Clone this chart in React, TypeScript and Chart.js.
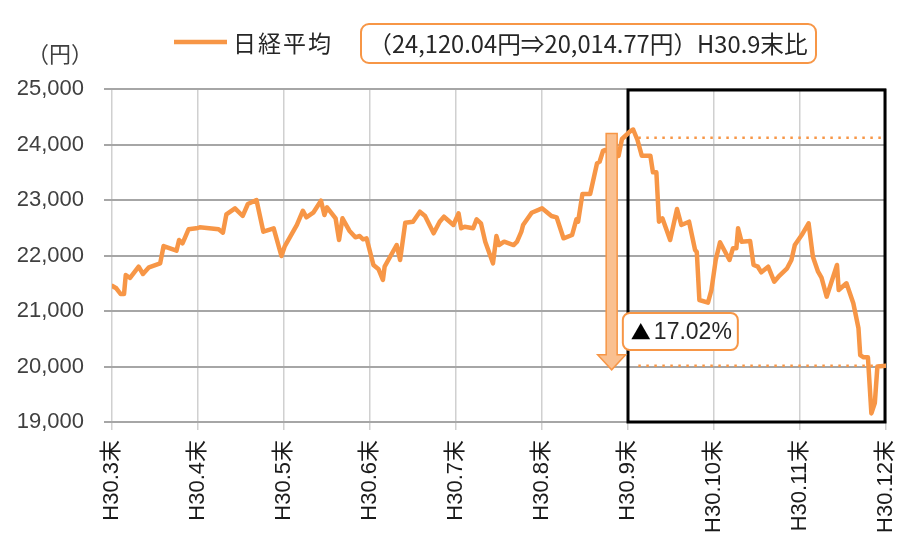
import React, { useEffect, useRef } from "react";
import { Chart, registerables } from "chart.js";

Chart.register(...registerables);

// ---- data ----
const monthLabels = [
  "H30.3末", "H30.4末", "H30.5末", "H30.6末", "H30.7末",
  "H30.8末", "H30.9末", "H30.10末", "H30.11末", "H30.12末",
];

// position in months after end of March 2018 (0 = H30.3末, 9 = H30.12末)
const monthPos = [
  0.00, 0.05, 0.10, 0.14, 0.16, 0.21, 0.31, 0.36, 0.43, 0.56,
  0.60, 0.75, 0.78, 0.82, 0.89, 0.98, 1.02, 1.24, 1.29, 1.33,
  1.43, 1.52, 1.58, 1.68, 1.76, 1.88, 1.97, 2.01, 2.15, 2.22,
  2.26, 2.34, 2.43, 2.47, 2.50, 2.60, 2.64, 2.68, 2.76, 2.83,
  2.88, 2.92, 2.96, 3.04, 3.10, 3.15, 3.17, 3.31, 3.35, 3.41,
  3.50, 3.58, 3.64, 3.74, 3.81, 3.86, 3.97, 4.03, 4.06, 4.10,
  4.20, 4.24, 4.29, 4.34, 4.43, 4.47, 4.50, 4.56, 4.67, 4.71,
  4.76, 4.78, 4.88, 5.00, 5.05, 5.11, 5.17, 5.25, 5.35, 5.40,
  5.42, 5.47, 5.56, 5.64, 5.67, 5.71, 5.73, 5.80, 5.89, 5.93,
  5.98, 6.02, 6.06, 6.11, 6.16, 6.26, 6.29, 6.33, 6.36, 6.40,
  6.49, 6.57, 6.62, 6.71, 6.78, 6.80, 6.83, 6.93, 6.97, 7.02,
  7.07, 7.18, 7.22, 7.26, 7.28, 7.32, 7.42, 7.46, 7.51, 7.55,
  7.63, 7.70, 7.75, 7.85, 7.90, 7.94, 8.02, 8.10, 8.15, 8.21,
  8.25, 8.31, 8.43, 8.45, 8.54, 8.62, 8.68, 8.70, 8.74, 8.79,
  8.83, 8.87, 8.90, 9.00,
];

const nikkeiAvg = [
  21454, 21409, 21306, 21306, 21649, 21595, 21798, 21667, 21787, 21859,
  22171, 22087, 22279, 22220, 22472, 22490, 22508, 22472, 22411, 22742,
  22850, 22712, 22928, 23000, 22429, 22490, 21991, 22171, 22550, 22807,
  22688, 22771, 22987, 22730, 22869, 22670, 22279, 22670, 22447, 22328,
  22351, 22292, 22310, 21829, 21751, 21559, 21798, 22189, 21919, 22591,
  22609, 22789, 22712, 22400, 22609, 22699, 22550, 22760, 22490, 22519,
  22490, 22652, 22580, 22249, 21859, 22351, 22189, 22249, 22189, 22249,
  22429, 22550, 22771, 22850, 22789, 22712, 22688, 22310, 22369, 22652,
  22609, 23108, 23108, 23661, 23690, 23888, 23901, 23850, 23793, 24099,
  24171, 24231, 24270, 24081, 23798, 23798, 23499, 23499, 22609, 22670,
  22279, 22838, 22550, 22609, 22099, 22063, 21198, 21150, 21378, 21919,
  22238, 21919, 22130, 22130, 22490, 22249, 22261, 21829, 21798, 21697,
  21798, 21528, 21618, 21769, 21919, 22189, 22369, 22580, 21978, 21708,
  21600, 21258, 21829, 21378, 21499, 21139, 20688, 20207, 20166, 20166,
  19155, 19342, 20000, 20015,
];

const yMin = 19000;
const yMax = 25000;
const yStep = 1000;

const baseValue = 24120.04; // H30.9末
const latestValue = 20014.77;
const changeLabel = "17.02%";
const seriesName = "日経平均";
const compareNote = "（24,120.04円⇒20,014.77円）H30.9末比";
const unitLabel = "（円）";

const frameFrom = 6; // H30.9末
const frameTo = 9; // H30.12末
const dottedFrom = 6.12;
const arrowPos = 5.81;
const arrowTop = 24200;
const arrowTip = 19940;
const noteAnchor = { x: 5.94, y: 20640 };

// ---- styles ----
const ORANGE = "#F79646";
const ARROW_FILL = "#FAC090";
const JP = '"Noto Sans CJK JP", "Noto Sans", sans-serif';
const LATIN = '"Liberation Sans", "Noto Sans CJK JP", sans-serif';

function rrect(ctx: CanvasRenderingContext2D, x: number, y: number, w: number, h: number, r: number) {
  ctx.beginPath();
  ctx.moveTo(x + r, y);
  ctx.lineTo(x + w - r, y);
  ctx.arcTo(x + w, y, x + w, y + r, r);
  ctx.lineTo(x + w, y + h - r);
  ctx.arcTo(x + w, y + h, x + w - r, y + h, r);
  ctx.lineTo(x + r, y + h);
  ctx.arcTo(x, y + h, x, y + h - r, r);
  ctx.lineTo(x, y + r);
  ctx.arcTo(x, y, x + r, y, r);
  ctx.closePath();
}

const overlayPlugin = {
  id: "overlay",
  beforeDatasetsDraw(chart: any) {
    const { ctx, scales } = chart;
    const xs = scales.x;
    const ys = scales.y;
    const l = xs.getPixelForValue(frameFrom);
    const r = xs.getPixelForValue(frameTo);
    const t = ys.getPixelForValue(yMax);
    const b = ys.getPixelForValue(yMin);
    ctx.save();
    ctx.strokeStyle = "#000";
    ctx.lineWidth = 3;
    ctx.strokeRect(l, t + 1, r - l - 1, b - t - 1);
    ctx.restore();
  },
  afterDatasetsDraw(chart: any) {
    const { ctx, scales } = chart;
    const xs = scales.x;
    const ys = scales.y;

    // dotted reference lines
    ctx.save();
    ctx.strokeStyle = ORANGE;
    ctx.lineWidth = 2.5;
    ctx.setLineDash([2.5, 5.5]);
    for (const v of [baseValue, latestValue]) {
      const py = ys.getPixelForValue(v);
      ctx.beginPath();
      ctx.moveTo(xs.getPixelForValue(dottedFrom), py);
      ctx.lineTo(xs.getPixelForValue(frameTo), py);
      ctx.stroke();
    }
    ctx.restore();

    // down arrow
    const ax = xs.getPixelForValue(arrowPos);
    const at = ys.getPixelForValue(arrowTop);
    const ab = ys.getPixelForValue(arrowTip);
    const headH = 15;
    const shaftW = 5.5;
    const headW = 14;
    ctx.save();
    ctx.beginPath();
    ctx.moveTo(ax - shaftW, at);
    ctx.lineTo(ax + shaftW, at);
    ctx.lineTo(ax + shaftW, ab - headH);
    ctx.lineTo(ax + headW, ab - headH);
    ctx.lineTo(ax, ab);
    ctx.lineTo(ax - headW, ab - headH);
    ctx.lineTo(ax - shaftW, ab - headH);
    ctx.closePath();
    ctx.fillStyle = ARROW_FILL;
    ctx.fill();
    ctx.strokeStyle = ORANGE;
    ctx.lineWidth = 1.5;
    ctx.stroke();
    ctx.restore();

    // change label
    const bx = xs.getPixelForValue(noteAnchor.x);
    const by = ys.getPixelForValue(noteAnchor.y);
    ctx.save();
    ctx.fillStyle = "#fff";
    rrect(ctx, bx, by - 18, 115, 37, 7);
    ctx.fill();
    ctx.strokeStyle = ORANGE;
    ctx.lineWidth = 2;
    ctx.stroke();
    ctx.textBaseline = "middle";
    ctx.textAlign = "left";
    ctx.fillStyle = "#000";
    ctx.font = `20px ${JP}`;
    ctx.fillText("▲", bx + 8, by + 1);
    ctx.fillStyle = "#262626";
    ctx.font = `23px ${LATIN}`;
    ctx.fillText(changeLabel, bx + 31, by + 2);
    ctx.restore();
  },
  afterDraw(chart: any) {
    const { ctx } = chart;
    ctx.save();
    // unit
    ctx.fillStyle = "#404040";
    ctx.textBaseline = "middle";
    ctx.textAlign = "center";
    ctx.font = `22px ${JP}`;
    ctx.fillText(unitLabel, 60, 54);

    // legend
    ctx.strokeStyle = ORANGE;
    ctx.lineWidth = 4.5;
    ctx.beginPath();
    ctx.moveTo(174, 42);
    ctx.lineTo(227, 42);
    ctx.stroke();
    ctx.textAlign = "left";
    ctx.fillStyle = "#262626";
    ctx.font = `23px ${JP}`;
    (ctx as any).letterSpacing = "2px";
    ctx.fillText(seriesName, 233, 43);
    (ctx as any).letterSpacing = "0px";

    // comparison note box
    ctx.fillStyle = "#fff";
    rrect(ctx, 361, 24, 455, 39, 8);
    ctx.fill();
    ctx.strokeStyle = ORANGE;
    ctx.lineWidth = 2;
    ctx.stroke();
    ctx.fillStyle = "#262626";
    ctx.textAlign = "center";
    let size = 23;
    ctx.font = `${size}px ${JP}`;
    const w = ctx.measureText(compareNote).width;
    const target = 440;
    size = Math.max(16, Math.min(26, size * target / w));
    ctx.font = `${size.toFixed(1)}px ${JP}`;
    ctx.fillText(compareNote, 588, 44);
    ctx.restore();
  },
};

export default function App() {
  const ref = useRef<HTMLCanvasElement | null>(null);

  useEffect(() => {
    if (!ref.current) return;
    const points = monthPos.map((m, i) => ({ x: m, y: nikkeiAvg[i] }));
    const chart = new Chart(ref.current, {
      type: "line",
      data: {
        datasets: [
          {
            label: seriesName,
            data: points,
            borderColor: ORANGE,
            backgroundColor: ORANGE,
            borderWidth: 4.5,
            pointRadius: 0,
            tension: 0,
            borderJoinStyle: "round",
            borderCapStyle: "round",
          },
        ],
      },
      options: {
        responsive: false,
        animation: false,
        devicePixelRatio: 1,
        layout: { padding: { left: 0, right: 12, top: 89, bottom: 0 } },
        plugins: {
          legend: { display: false },
          tooltip: { enabled: false },
          title: { display: false },
        },
        scales: {
          x: {
            type: "linear",
            min: 0,
            max: monthLabels.length - 1,
            afterFit: (s: any) => {
              s.height = 120;
              s.paddingLeft = 0;
              s.paddingRight = 0;
            },
            afterBuildTicks: (s: any) => {
              s.ticks = monthLabels.map((_, i) => ({ value: i }));
            },
            ticks: {
              autoSkip: false,
              maxRotation: 90,
              minRotation: 90,
              padding: 10,
              color: "#1a1a1a",
              font: { size: 22, family: LATIN },
              callback: (v: any) => monthLabels[Math.round(Number(v))] ?? "",
            },
            grid: {
              color: "#d0d0d0",
              lineWidth: 1.5,
              tickLength: 8,
              drawTicks: true,
            },
            border: { display: true, color: "#a6a6a6", width: 2 },
          },
          y: {
            type: "linear",
            min: yMin,
            max: yMax,
            afterFit: (s: any) => {
              s.width = 112;
              s.paddingTop = 0;
              s.paddingBottom = 0;
            },
            ticks: {
              stepSize: yStep,
              padding: 20,
              color: "#404040",
              font: { size: 22, family: LATIN },
              callback: (v: any) => Number(v).toLocaleString("en-US"),
            },
            grid: {
              color: "#a6a6a6",
              lineWidth: 2,
              tickLength: 8,
            },
            border: { display: false },
          },
        },
      },
      plugins: [overlayPlugin],
    });
    return () => chart.destroy();
  }, []);

  return (
    <div style={{ position: "absolute", left: 0, top: 0, width: 898, height: 542, background: "#fff" }}>
      <canvas ref={ref} width={898} height={542} style={{ width: 898, height: 542, display: "block" }} />
    </div>
  );
}
